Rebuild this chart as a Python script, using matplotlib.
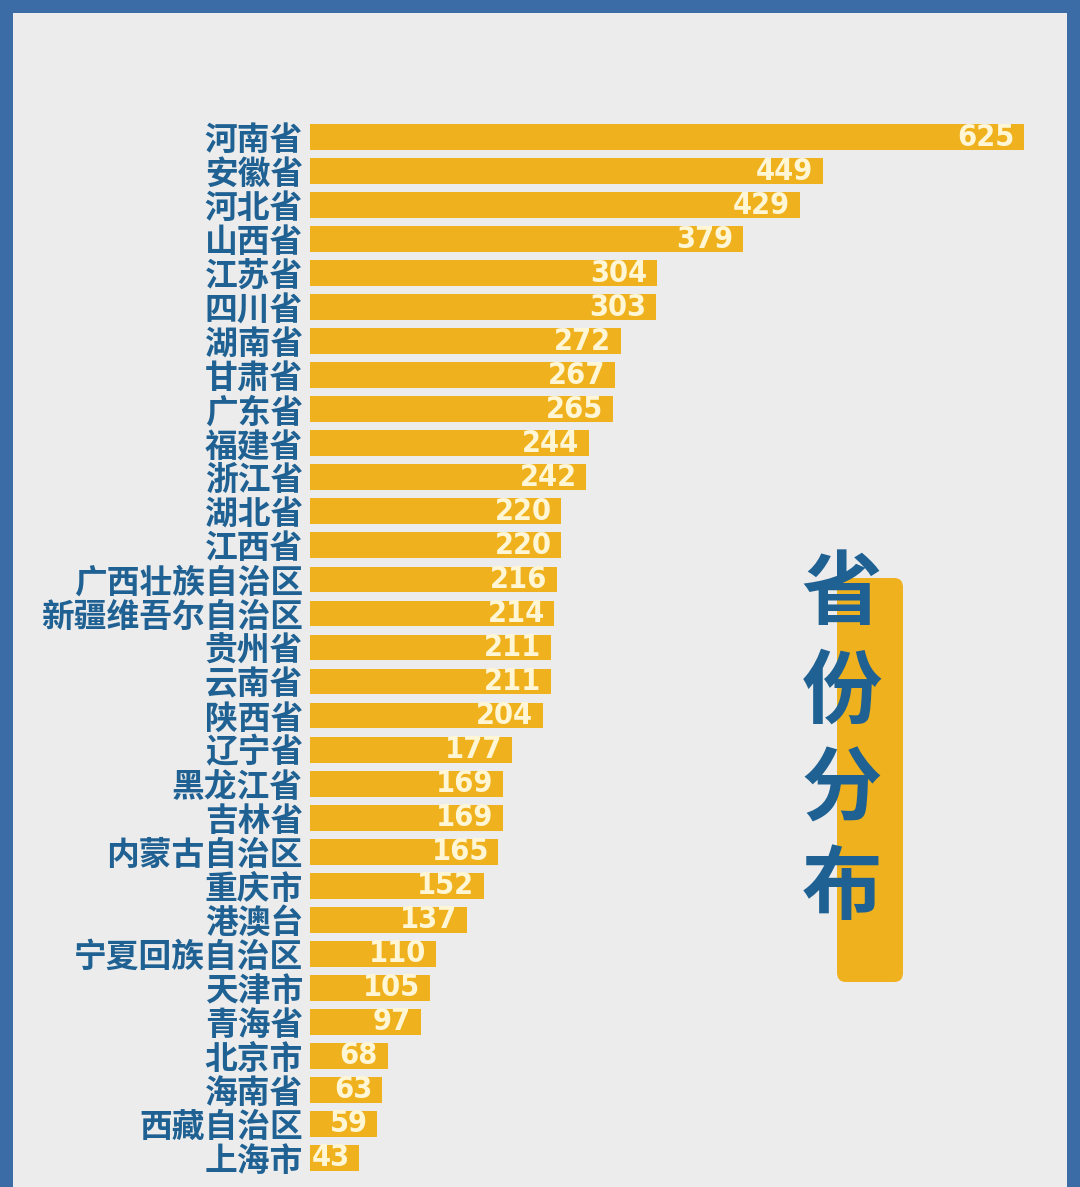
import matplotlib
matplotlib.use("Agg")
import matplotlib.pyplot as plt
from matplotlib.patches import Rectangle, FancyBboxPatch

plt.rcParams['font.family'] = ['Noto Sans CJK SC', 'DejaVu Sans']

provinces = ["河南省", "安徽省", "河北省", "山西省", "江苏省", "四川省", "湖南省", "甘肃省",
             "广东省", "福建省", "浙江省", "湖北省", "江西省", "广西壮族自治区", "新疆维吾尔自治区",
             "贵州省", "云南省", "陕西省", "辽宁省", "黑龙江省", "吉林省", "内蒙古自治区", "重庆市",
             "港澳台", "宁夏回族自治区", "天津市", "青海省", "北京市", "海南省", "西藏自治区", "上海市"]
counts = [625, 449, 429, 379, 304, 303, 272, 267, 265, 244, 242, 220, 220, 216, 214,
          211, 211, 204, 177, 169, 169, 165, 152, 137, 110, 105, 97, 68, 63, 59, 43]
title = "省份分布"

W, H = 1080, 1187
BLUE_FRAME = "#3C6CA5"
BG = "#ECECEC"
BAR = "#EFB21E"
LABEL = "#1F6192"
VAL = "#FFF6D6"

fig = plt.figure(figsize=(W / 100, H / 100), dpi=100)
fig.patch.set_facecolor(BLUE_FRAME)
# inner light panel
fig.patches.append(Rectangle((13 / W, 0), (1067 - 13) / W, 1 - 13 / H,
                             transform=fig.transFigure, facecolor=BG, edgecolor="none", zorder=0))

# brush stroke behind title
fig.patches.append(FancyBboxPatch((837 / W, 1 - 982 / H), 66 / W, (982 - 578) / H,
                                  boxstyle="round,pad=0.0,rounding_size=0.008",
                                  transform=fig.transFigure, facecolor=BAR, edgecolor="none", zorder=1))

x0, x1 = 310, 1024
ytop, ybot = 120, 1175
ax = fig.add_axes([x0 / W, 1 - ybot / H, (x1 - x0) / W, (ybot - ytop) / H])
ax.set_facecolor("none")
ax.set_zorder(2)

ypos = list(range(len(provinces)))
ax.barh(ypos, counts, height=0.76, color=BAR, edgecolor="none")
ax.set_xlim(0, max(counts))
ax.set_ylim(len(provinces) - 0.5, -0.5)
ax.set_yticks(ypos)
ax.set_yticklabels(provinces, fontsize=23.6, fontweight="black", color=LABEL)
ax.tick_params(axis="y", length=0, pad=5)
ax.set_xticks([])
for s in ax.spines.values():
    s.set_visible(False)

for y, v in zip(ypos, counts):
    ax.annotate(str(v), xy=(v, y), xytext=(-7, 0), textcoords="offset points",
                ha="right", va="center", fontsize=22, fontweight="bold", color=VAL,
                family="DejaVu Sans", fontstretch="condensed", clip_on=False)

fig.text(842 / W, 1 - 742 / H, "\n".join(title), ha="center", va="center",
         fontsize=58, fontweight="black", color=LABEL, linespacing=1.27, zorder=3)

fig.savefig("out.png", dpi=100, facecolor=fig.get_facecolor())
